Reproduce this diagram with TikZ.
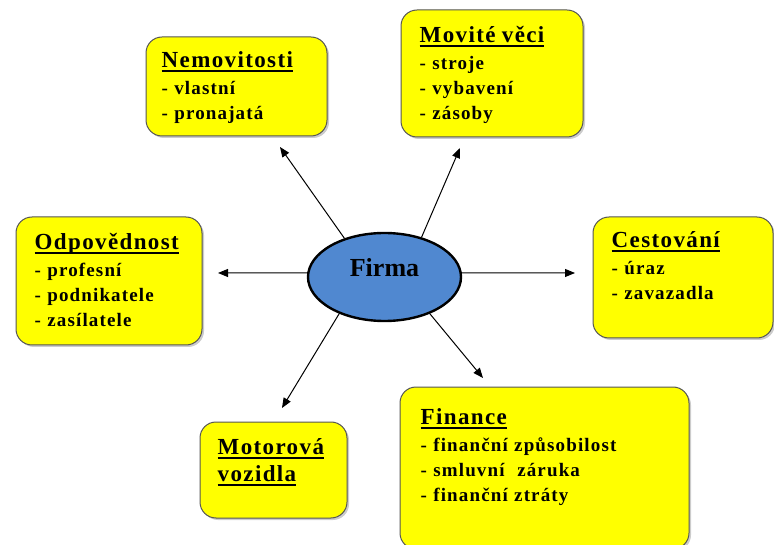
\documentclass[tikz,border=0pt]{standalone}
\usepackage{fontspec}
\setmainfont{Liberation Serif}
\newfontfamily\cardfont{Liberation Serif}[LetterSpace=6]
\usetikzlibrary{positioning,arrows.meta,shapes.geometric,shadows}
\definecolor{cardfill}{RGB}{255,255,0}
\definecolor{cardline}{RGB}{85,85,85}
\definecolor{hubfill}{RGB}{80,136,208}
\newcommand\titlefont{\fontsize{23}{25}\selectfont}
\newcommand\hdline[1]{\leavevmode{\titlefont\setbox0=\hbox{#1}\rlap{\rule[-4.5pt]{\wd0}{1.8pt}}\box0}}
\tikzset{
  >={Triangle[length=10pt,width=8pt]},
  card/.style={draw=cardline,fill=cardfill,line width=1pt,rounded corners=16pt,
    drop shadow={shadow xshift=2pt,shadow yshift=-2pt,fill=black!40}},
  cardtext/.style={inner sep=0pt,text width=270pt,align=left,
    font=\cardfont\fontsize{19}{25}\selectfont\bfseries},
  hub/.style={ellipse,draw=black,fill=hubfill,line width=2.4pt,
    minimum width=153pt,minimum height=88pt},
  hubtext/.style={inner sep=0pt,font=\fontsize{26}{30}\selectfont\bfseries},
  link/.style={->,line width=1pt},
}
\begin{document}
\begin{tikzpicture}[x=1pt,y=-1pt]
  \useasboundingbox (0,0) rectangle (774,545);
  % boxes
  \node[card,minimum width=181pt,minimum height=99pt] (nemo) at (236.5,86.5) {};
  \node[card,minimum width=182pt,minimum height=127pt] (movite) at (492,73.5) {};
  \node[card,minimum width=186pt,minimum height=128pt] (odp) at (109,281) {};
  \node[card,minimum width=180pt,minimum height=121pt] (cest) at (683,277.5) {};
  \node[card,minimum width=147pt,minimum height=96pt] (motor) at (273.5,470) {};
  \node[card,minimum width=289pt,minimum height=162pt] (fin) at (544.5,468) {};
  % texts
  \node[cardtext,below right=31pt and 16pt of nemo.north west,anchor=base west] (nemotxt)
    {\hdline{Nemovitosti}\\[2pt]- vlastní\\- pronajatá};
  \node[cardtext,below right=33pt and 19pt of movite.north west,anchor=base west] (movitetxt)
    {\hdline{Movité věci}\\[2pt]- stroje\\- vybavení\\- zásoby};
  \node[cardtext,below right=33pt and 19pt of odp.north west,anchor=base west] (odptxt)
    {\hdline{Odpovědnost}\\[2pt]- profesní\\- podnikatele\\- zasílatele};
  \node[cardtext,below right=31pt and 19pt of cest.north west,anchor=base west] (cesttxt)
    {\hdline{Cestování}\\[2pt]- úraz\\- zavazadla};
  \node[cardtext,below right=33pt and 18pt of motor.north west,anchor=base west] (motortxt)
    {\hdline{Motorová}\\[2pt]\hdline{vozidla}};
  \node[cardtext,below right=38pt and 21pt of fin.north west,anchor=base west] (fintxt)
    {\hdline{Finance}\\[2pt]- finanční způsobilost\\- smluvní\ \ záruka\\- finanční ztráty};
  % centre
  \node[hub] (firma) at (384.5,277) {};
  \node[hubtext,anchor=base] (firmatxt) at (firma.center) {Firma};
  % arrows
  \coordinate (nemoTip) at (280,147);
  \coordinate (moviteTip) at (460,148);
  \coordinate (odpTip) at (218,273);
  \coordinate (cestTip) at (575,273);
  \coordinate (motorTip) at (282,408);
  \coordinate (finTip) at (483,378);
  \foreach \a/\t in {136/nemoTip,47/moviteTip,177/odpTip,3/cestTip,219/motorTip,321/finTip}
    \draw[link] (firma.\a) -- (\t);
\end{tikzpicture}
\end{document}
